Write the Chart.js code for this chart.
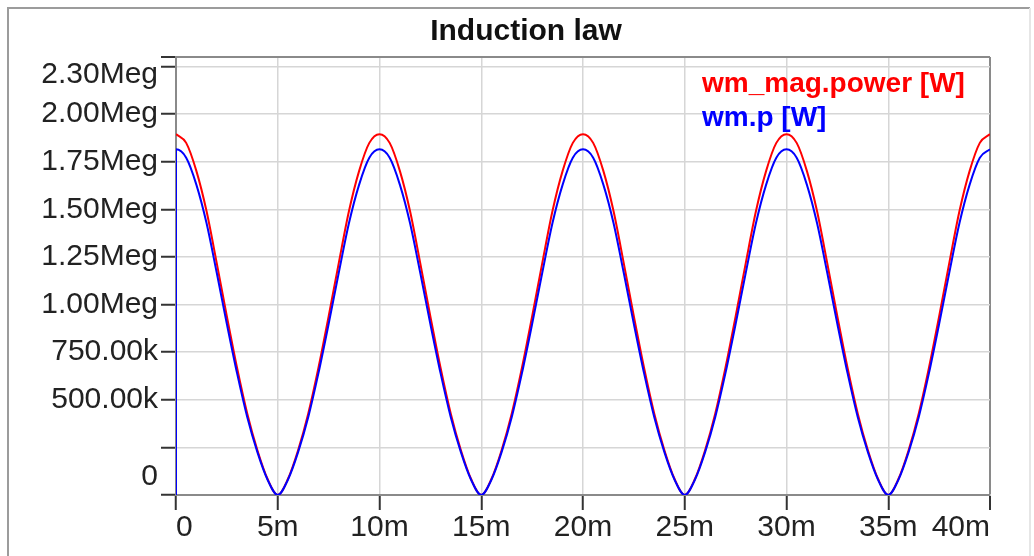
<!DOCTYPE html>
<html>
<head>
<meta charset="utf-8">
<title>Induction law</title>
<script src="https://cdn.jsdelivr.net/npm/chart.js@4/dist/chart.umd.min.js"></script>
<style>
  html, body { margin: 0; padding: 0; background: #ffffff; }
  canvas { display: block; }
</style>
</head>
<body>
<canvas id="chart" width="1034" height="556"></canvas>
<script>
// Simulation time in milliseconds
const timeMs = [
  0, 0.5, 1, 1.5, 2, 2.5, 3, 3.5, 4, 4.5,
  5, 5.5, 6, 6.5, 7, 7.5, 8, 8.5, 9, 9.5,
  10, 10.5, 11, 11.5, 12, 12.5, 13, 13.5, 14, 14.5,
  15, 15.5, 16, 16.5, 17, 17.5, 18, 18.5, 19, 19.5,
  20, 20.5, 21, 21.5, 22, 22.5, 23, 23.5, 24, 24.5,
  25, 25.5, 26, 26.5, 27, 27.5, 28, 28.5, 29, 29.5,
  30, 30.5, 31, 31.5, 32, 32.5, 33, 33.5, 34, 34.5,
  35, 35.5, 36, 36.5, 37, 37.5, 38, 38.5, 39, 39.5,
  40
];

// wm_mag.power [W]
const magPower = [
  1895000, 1849000, 1702000, 1491000, 1219000, 938000, 668000, 428000, 235000, 84000,
  0, 84000, 235000, 428000, 668000, 938000, 1219000, 1491000, 1702000, 1849000,
  1895000, 1849000, 1702000, 1491000, 1219000, 938000, 668000, 428000, 235000, 84000,
  0, 84000, 235000, 428000, 668000, 938000, 1219000, 1491000, 1702000, 1849000,
  1895000, 1849000, 1702000, 1491000, 1219000, 938000, 668000, 428000, 235000, 84000,
  0, 84000, 235000, 428000, 668000, 938000, 1219000, 1491000, 1702000, 1849000,
  1895000, 1849000, 1702000, 1491000, 1219000, 938000, 668000, 428000, 235000, 84000,
  0, 84000, 235000, 428000, 668000, 938000, 1219000, 1491000, 1702000, 1849000,
  1895000
];

// wm.p [W]
const wmP = [
  1815000, 1771000, 1630000, 1428000, 1168000, 898000, 640000, 410000, 225000, 80000,
  0, 80000, 225000, 410000, 640000, 898000, 1168000, 1428000, 1630000, 1771000,
  1815000, 1771000, 1630000, 1428000, 1168000, 898000, 640000, 410000, 225000, 80000,
  0, 80000, 225000, 410000, 640000, 898000, 1168000, 1428000, 1630000, 1771000,
  1815000, 1771000, 1630000, 1428000, 1168000, 898000, 640000, 410000, 225000, 80000,
  0, 80000, 225000, 410000, 640000, 898000, 1168000, 1428000, 1630000, 1771000,
  1815000, 1771000, 1630000, 1428000, 1168000, 898000, 640000, 410000, 225000, 80000,
  0, 80000, 225000, 410000, 640000, 898000, 1168000, 1428000, 1630000, 1771000,
  1815000
];

// wm.p starts from zero at t = 0 before stepping to its first value
const wmPInitial = 0;

const seriesLabels = ['wm_mag.power [W]', 'wm.p [W]'];
const seriesColors = ['#ff0000', '#0000ff'];

const xTickValues = [0, 5, 10, 15, 20, 25, 30, 35, 40];
const xTickLabels = ['0', '5m', '10m', '15m', '20m', '25m', '30m', '35m', '40m'];

const yTickValues = [0, 250000, 500000, 750000, 1000000, 1250000, 1500000, 1750000, 2000000, 2250000, 2300000];
const yTickLabels = ['0', '', '500.00k', '750.00k', '1.00Meg', '1.25Meg', '1.50Meg', '1.75Meg', '2.00Meg', '', '2.30Meg'];

const X_MAX = 40;
const Y_MAX = 2300000;
const FONT = "'Liberation Sans', Arial, Helvetica, sans-serif";
const GRID = '#d6d6d6';
const FRAME = '#8a8a8a';

function toPoints(times, values) {
  return times.map((t, i) => ({ x: t, y: values[i] }));
}

// Outer panel frame
const panelFrame = {
  id: 'panelFrame',
  beforeDraw(chart) {
    const ctx = chart.ctx;
    ctx.save();
    ctx.lineWidth = 2;
    ctx.strokeStyle = '#9c9c9c';
    ctx.beginPath();
    ctx.moveTo(8, chart.height);
    ctx.lineTo(8, 8);
    ctx.lineTo(1030, 8);
    ctx.stroke();
    ctx.strokeStyle = '#e6e6e6';
    ctx.beginPath();
    ctx.moveTo(1030, 8);
    ctx.lineTo(1030, chart.height);
    ctx.stroke();
    ctx.restore();
  }
};

// Coloured text legend in the upper right of the plot
const textLegend = {
  id: 'textLegend',
  afterDatasetsDraw(chart) {
    const { ctx, chartArea } = chart;
    ctx.save();
    ctx.font = 'bold 28px ' + FONT;
    ctx.textAlign = 'left';
    ctx.textBaseline = 'alphabetic';
    chart.data.datasets.forEach((ds, i) => {
      ctx.fillStyle = ds.borderColor;
      ctx.fillText(ds.label, chartArea.right - 288, chartArea.top + 35 + i * 34);
    });
    ctx.restore();
  }
};

const tickFont = { family: FONT, size: 30, lineHeight: 1.2 };

new Chart(document.getElementById('chart'), {
  type: 'line',
  data: {
    datasets: [
      {
        label: seriesLabels[0],
        data: toPoints(timeMs, magPower),
        borderColor: seriesColors[0],
        borderWidth: 2,
        pointRadius: 0,
        fill: false,
        cubicInterpolationMode: 'monotone',
        yAxisID: 'y',
        order: 1
      },
      {
        label: seriesLabels[1],
        data: [{ x: timeMs[0], y: wmPInitial }].concat(toPoints(timeMs, wmP)),
        borderColor: seriesColors[1],
        borderWidth: 2,
        pointRadius: 0,
        fill: false,
        cubicInterpolationMode: 'monotone',
        yAxisID: 'y',
        order: 0
      }
    ]
  },
  options: {
    responsive: false,
    animation: false,
    events: [],
    layout: { padding: { left: 18, right: 0, top: 0, bottom: 7 } },
    plugins: {
      legend: { display: false },
      tooltip: { enabled: false },
      title: {
        display: true,
        text: 'Induction law',
        color: '#111111',
        font: { family: FONT, size: 30, weight: 'bold', lineHeight: 1.2 },
        padding: { top: 14, bottom: 7 }
      }
    },
    scales: {
      x: {
        type: 'linear',
        position: 'bottom',
        min: 0,
        max: X_MAX,
        afterBuildTicks: s => { s.ticks = xTickValues.map(v => ({ value: v })); },
        afterFit: s => { s.height = 54; },
        ticks: {
          autoSkip: false,
          maxRotation: 0,
          align: 'inner',
          padding: 0,
          color: '#222222',
          font: tickFont,
          callback: (v, i) => xTickLabels[i]
        },
        grid: {
          color: c => (c.tick && c.tick.value === X_MAX ? FRAME : GRID),
          lineWidth: c => (c.tick && c.tick.value === X_MAX ? 2 : 1.5),
          tickColor: '#333333',
          tickWidth: 2,
          tickLength: 15
        },
        border: { color: FRAME, width: 2 }
      },
      y: {
        type: 'linear',
        position: 'left',
        min: 0,
        max: Y_MAX,
        afterBuildTicks: s => { s.ticks = yTickValues.map(v => ({ value: v })); },
        afterFit: s => { s.width = 158; },
        ticks: {
          autoSkip: false,
          padding: 3,
          color: '#222222',
          font: tickFont,
          callback: (v, i, ticks) => {
            const t = yTickLabels[i];
            if (i === 0) return [t, ''];
            if (i === ticks.length - 1) return ['', t];
            return t;
          }
        },
        grid: {
          color: c => (c.tick && c.tick.value === Y_MAX ? FRAME : GRID),
          lineWidth: c => (c.tick && c.tick.value === Y_MAX ? 2 : 1.5),
          tickColor: '#333333',
          tickWidth: 2,
          tickLength: 15
        },
        border: { color: FRAME, width: 2 }
      },
      yPad: {
        type: 'linear',
        position: 'right',
        display: true,
        afterFit: s => { s.width = 44; },
        ticks: { display: false },
        grid: { display: false },
        border: { display: false }
      }
    }
  },
  plugins: [panelFrame, textLegend]
});
</script>
</body>
</html>
